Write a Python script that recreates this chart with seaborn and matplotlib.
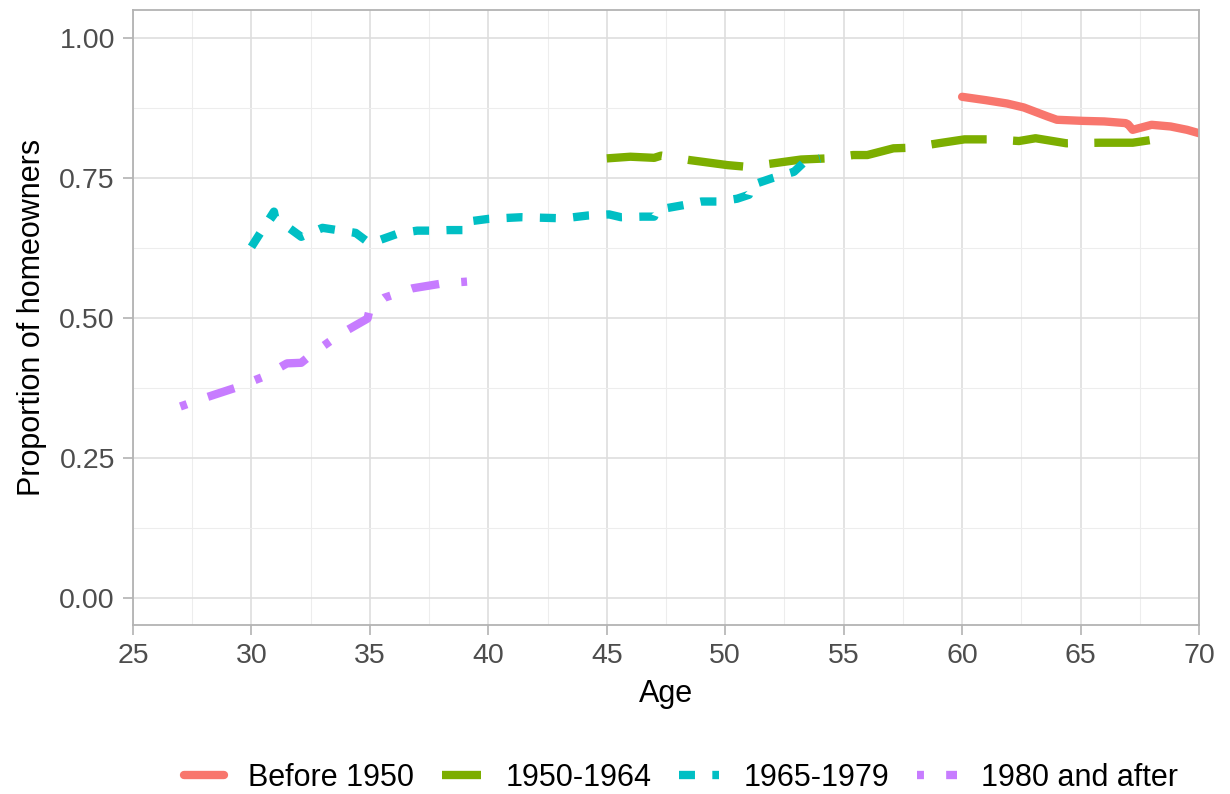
import numpy as np
import pandas as pd
import seaborn as sns
import matplotlib.pyplot as plt
from matplotlib.lines import Line2D

# ── Data ──────────────────────────────────────────────────────────────────────
cohorts = ["Before 1950", "1950-1964", "1965-1979", "1980 and after"]
colors  = ["#F8766D", "#7CAE00", "#00BFC4", "#C77CFF"]

age_pre50  = [60.0, 61.0, 61.9, 62.6, 63.1, 63.6, 64.0, 65.1, 66.0, 66.9, 67.0, 67.2, 68.0, 68.8, 69.5, 70.0]
prop_pre50 = [0.895, 0.889, 0.883, 0.876, 0.868, 0.860, 0.854, 0.852, 0.851, 0.848, 0.846, 0.836, 0.845, 0.842, 0.836, 0.830]

age_5064  = [45.0, 46.0, 47.0, 47.3, 48.5, 50.1, 50.9, 52.0, 53.2, 54.3, 55.4, 56.0, 57.1, 57.8, 59.0, 60.1,
             61.3, 62.4, 63.1, 64.4, 65.8, 67.2, 68.0]
prop_5064 = [0.785, 0.788, 0.786, 0.790, 0.782, 0.773, 0.770, 0.776, 0.783, 0.785, 0.791, 0.791, 0.803, 0.804,
             0.812, 0.819, 0.819, 0.816, 0.821, 0.812, 0.813, 0.813, 0.818]

age_6579  = [30.0, 30.95, 31.0, 32.1, 33.0, 34.4, 35.0, 36.2, 37.0, 37.7, 38.3, 39.0, 39.1, 40.0, 41.4, 43.2,
             44.2, 45.1, 45.6, 46.5, 47.0, 47.1, 48.3, 49.0, 49.7, 50.5, 51.0, 51.1, 52.0, 52.9, 53.3, 54.0]
prop_6579 = [0.627, 0.690, 0.679, 0.645, 0.661, 0.652, 0.633, 0.651, 0.656, 0.656, 0.657, 0.657, 0.672, 0.677,
             0.680, 0.678, 0.683, 0.685, 0.680, 0.681, 0.681, 0.693, 0.702, 0.708, 0.708, 0.713, 0.720, 0.737,
             0.750, 0.761, 0.777, 0.785]

age_80   = [27.0, 28.0, 29.3, 30.5, 31.5, 32.1, 32.6, 33.7, 34.9, 35.0, 35.6, 36.8, 38.1, 39.1]
prop_80  = [0.342, 0.357, 0.375, 0.395, 0.419, 0.420, 0.437, 0.470, 0.499, 0.517, 0.536, 0.553, 0.562, 0.565]

x_ticks = [25, 30, 35, 40, 45, 50, 55, 60, 65, 70]
y_ticks = [0.00, 0.25, 0.50, 0.75, 1.00]

df = pd.concat([
    pd.DataFrame({"age": a, "prop": p, "cohort": c})
    for a, p, c in [(age_pre50, prop_pre50, cohorts[0]), (age_5064, prop_5064, cohorts[1]),
                    (age_6579, prop_6579, cohorts[2]), (age_80, prop_80, cohorts[3])]
], ignore_index=True)

# ── Style (ggplot theme_light look) ───────────────────────────────────────────
sns.set_theme(style="white")
plt.rcParams["font.family"] = ["Liberation Sans", "DejaVu Sans"]
plt.rcParams["lines.scale_dashes"] = False

# dash patterns in points
dash_map = {
    cohorts[0]: "",
    cohorts[1]: (40, 19),
    cohorts[2]: (11.5, 12.5),
    cohorts[3]: (5, 16, 20, 16),
}
pal = dict(zip(cohorts, colors))
lw = 6.0

fig = plt.figure(figsize=(12.3, 7.94), dpi=100)
ax = fig.add_axes([133/1230, 169/794, 1066/1230, 615/794])

sns.lineplot(data=df, x="age", y="prop", hue="cohort", style="cohort",
             hue_order=cohorts, style_order=cohorts, palette=pal, dashes=dash_map,
             linewidth=lw, sort=False, estimator=None, legend=False, ax=ax)

ax.set_xlim(25, 70)
ax.set_ylim(-0.0482, 1.05)
ax.set_xticks(x_ticks)
ax.set_xticklabels([str(t) for t in x_ticks])
ax.set_yticks(y_ticks)
ax.set_yticklabels([f"{t:.2f}" for t in y_ticks])
ax.set_xticks([t + 2.5 for t in x_ticks[:-1]], minor=True)
ax.set_yticks([t + 0.125 for t in y_ticks[:-1]], minor=True)

ax.grid(which="major", color="#DEDEDE", linewidth=1.2)
ax.grid(which="minor", color="#EDEDED", linewidth=0.8)
ax.set_axisbelow(True)
for s in ax.spines.values():
    s.set_color("#B3B3B3")
    s.set_linewidth(1.3)

ax.tick_params(which="major", length=7, width=1.2, color="#B3B3B3",
               labelsize=20.5, labelcolor="#4D4D4D", pad=6)
ax.tick_params(which="minor", length=0)
ax.tick_params(axis="x", bottom=True)
ax.tick_params(axis="y", left=True)

ax.set_xlabel("Age", fontsize=22, color="black", labelpad=7)
ax.set_ylabel("Proportion of homeowners", fontsize=22, color="black", labelpad=9)

# ── Legend at bottom ──────────────────────────────────────────────────────────
handles = []
for c in cohorts:
    h = Line2D([], [], color=pal[c], linewidth=lw)
    if dash_map[c]:
        h.set_dashes(dash_map[c])
    handles.append(h)
fig.legend(handles, cohorts, loc="center", bbox_to_anchor=(681/1230, 1 - 778/794),
           ncol=4, frameon=False, fontsize=22, handlelength=1.3, handletextpad=0.8,
           columnspacing=0.9, labelcolor="black")

fig.savefig("out.png", dpi=100)
